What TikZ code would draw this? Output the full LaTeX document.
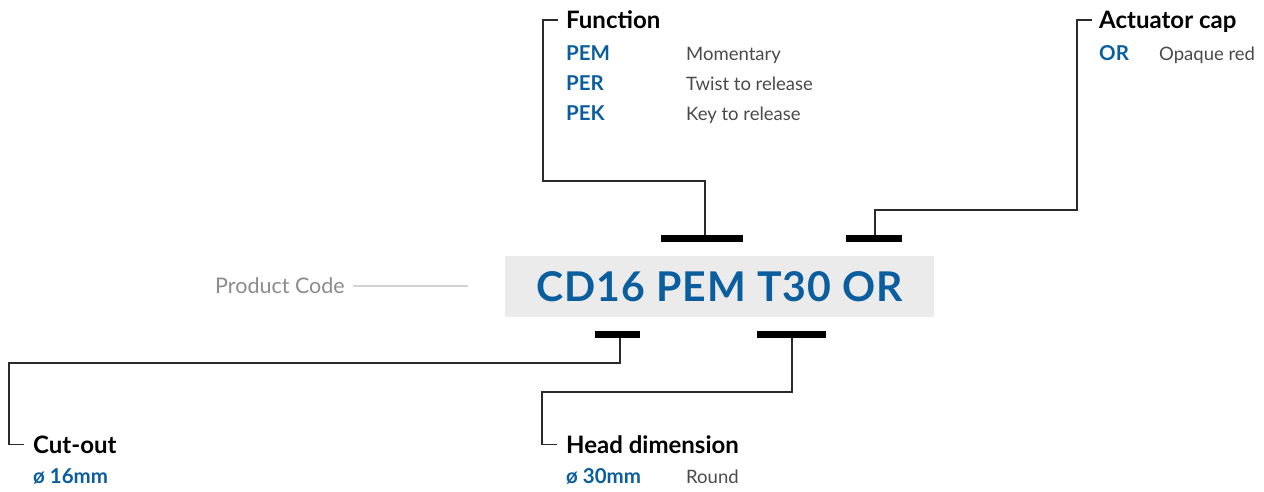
\documentclass[tikz,border=0pt]{standalone}
\usepackage{fontspec}
\setmainfont{Lato}
\definecolor{codeblue}{HTML}{0B5E9E}
\definecolor{boxgray}{HTML}{EBEBEB}
\definecolor{pcgray}{HTML}{8C8C8C}
\definecolor{pcline}{HTML}{D2D2D2}
\definecolor{desc}{HTML}{4A4A4A}
\definecolor{conncol}{HTML}{2A2A2A}
\begin{document}
\begin{tikzpicture}[x=1pt,y=-1pt,
  title/.style={anchor=base west,inner sep=0pt,text height=17pt,text depth=0pt,font=\fontsize{24}{28}\selectfont\bfseries,text=black},
  key/.style={anchor=base west,inner sep=0pt,font=\fontsize{20.5}{24}\selectfont\bfseries,text=codeblue},
  descr/.style={anchor=base west,inner sep=0pt,font=\fontsize{18.5}{22}\selectfont,text=desc},
  bar/.style={fill=black,inner sep=0pt,minimum height=7pt},
  conn/.style={draw=conncol,line width=1.5pt}
]
\useasboundingbox (0,0) rectangle (1264,491);
% code box
\node[fill=boxgray,minimum width=429pt,minimum height=61pt,inner sep=0pt,
  font=\fontsize{41}{46}\selectfont\bfseries\addfontfeature{LetterSpace=2.5},text=codeblue] (code) at (719.5,286.5) {CD16 PEM T30 OR};
\node[anchor=base west,inner sep=0pt,font=\fontsize{21.5}{24}\selectfont,text=pcgray] (pc) at (215,293) {Product Code};
\coordinate (pcend) at (468,286);
\draw[pcline,line width=2pt] ([xshift=8pt]pc.east |- pcend) -- (pcend);
% bars
\node[bar,minimum width=82pt] (bar1) at (702,238.5) {};
\node[bar,minimum width=56pt] (bar2) at (874,238.5) {};
\node[bar,minimum width=45pt] (bar3) at (617.5,334.5) {};
\node[bar,minimum width=69pt] (bar4) at (791.5,334.5) {};
% Function
\node[title] (ftitle) at (566,28.5) {Function};
\node[key] (k1) at (566,60.5) {PEM};
\node[key] (k2) at (566,90.5) {PER};
\node[key] (k3) at (566,120.5) {PEK};
\node[descr] (d1) at (686,60) {Momentary};
\node[descr] (d2) at (686,90) {Twist to release};
\node[descr] (d3) at (686,120) {Key to release};
\coordinate (fc) at (543,181);
\draw[conn] (bar1.north -| 705,0) |- (fc) |- ([xshift=-8pt]ftitle.west);
% Actuator cap
\node[title] (atitle) at (1099,28.5) {Actuator cap};
\node[key] (ak) at (1099,60.5) {OR};
\node[descr] (ad) at (1159,60) {Opaque red};
\coordinate (ac) at (1077,210);
\draw[conn] (bar2.north -| 875,0) |- (ac) |- ([xshift=-7pt]atitle.west);
% Cut-out
\node[title] (ctitle) at (33,453) {Cut-out};
\node[key] (ck) at (33,483) {ø 16mm};
\coordinate (cc) at (9,363);
\draw[conn] (bar3.south -| 620,0) |- (cc) |- ([xshift=-9pt]ctitle.west);
% Head dimension
\node[title] (htitle) at (566,453) {Head dimension};
\node[key] (hk) at (566,483) {ø 30mm};
\node[descr] (hd) at (686,483) {Round};
\coordinate (hc) at (542,392);
\draw[conn] (bar4.south -| 792,0) |- (hc) |- ([xshift=-9pt]htitle.west);
\end{tikzpicture}
\end{document}
